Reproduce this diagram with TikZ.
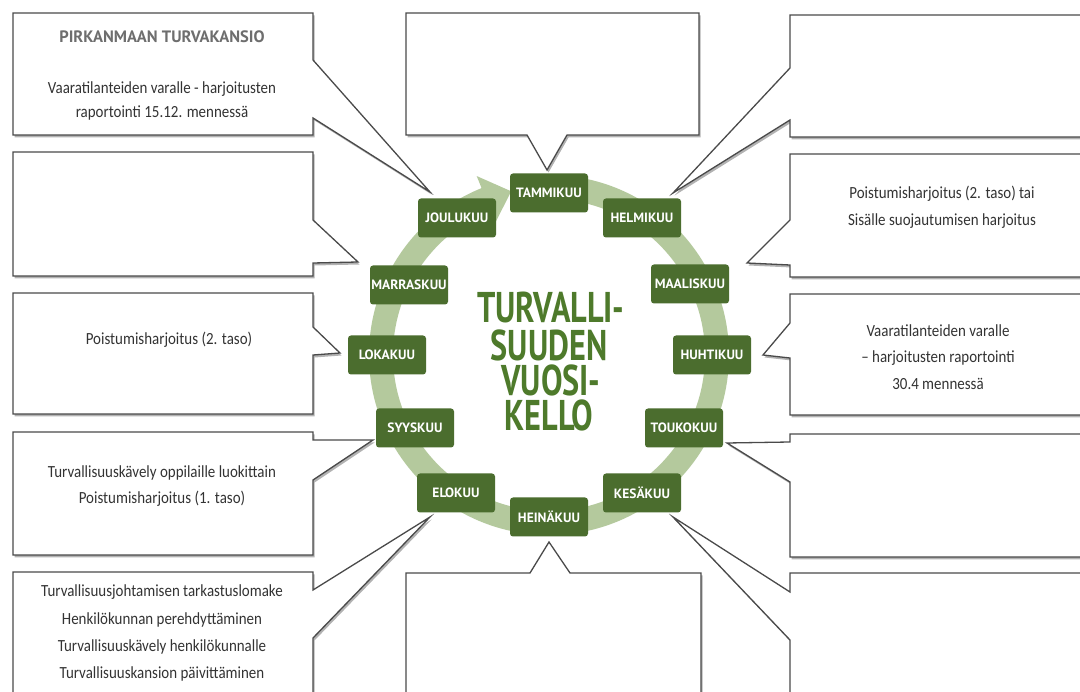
\documentclass[tikz,border=0pt]{standalone}
\usepackage{fontspec}
\setmainfont{Carlito}
\newfontfamily\bodyf{Carlito}[FakeStretch=0.88]
\newfontfamily\headf{PT Sans}
\newfontfamily\titlef{PT Sans}[FakeStretch=0.75]
\usetikzlibrary{calc,shadows}
\definecolor{boxline}{HTML}{4A4A4A}
\definecolor{monthgreen}{HTML}{4B6D2E}
\definecolor{ringgreen}{HTML}{B4C99D}
\definecolor{titlegreen}{HTML}{4E7A2B}
\definecolor{bodytext}{HTML}{333333}
\definecolor{headgray}{HTML}{6E6E6E}
\tikzset{
  calloutbox/.style={draw=boxline, line width=1.3pt, fill=white, line join=miter,
    drop shadow={shadow xshift=1.5pt, shadow yshift=-2.5pt, opacity=0.3, fill=black}},
  month/.style={fill=monthgreen, rounded corners=3pt, minimum width=78pt, minimum height=39pt,
    inner sep=0pt, text=white, font=\headf\bfseries\fontsize{13.5}{13.5}\selectfont},
  body/.style={text=bodytext, font=\bodyf\fontsize{17}{20}\selectfont, anchor=base, inner sep=0pt},
  head/.style={text=headgray, font=\headf\bfseries\fontsize{16.5}{18}\selectfont, anchor=base, inner sep=0pt},
  ring/.style={draw=ringgreen, line width=24pt},
  titletext/.style={text=titlegreen, font=\titlef\bfseries\fontsize{43}{43}\selectfont, anchor=base, inner sep=0pt},
}
\begin{document}
\begin{tikzpicture}[x=1pt,y=-1pt]
\useasboundingbox (0,0) rectangle (1080,692);
\clip (0,0) rectangle (1080,692);
\fill[white] (0,0) rectangle (1080,692);

% ring with arrow
\coordinate (c) at (549,355);
\draw[ring] ($(c)+(-88:168)$) arc[start angle=-88, end angle=249, radius=168];
\fill[ringgreen] ($(c)+(248:193)$) -- ($(c)+(257:168)$) -- ($(c)+(248:143)$) -- cycle;

% callout boxes, left column
\path[calloutbox] (13,13) -- (313,13) -- (313,60) -- (430,192) -- (313,118) -- (313,135) -- (13,135) -- cycle;
\path[calloutbox] (13,152) -- (313,152) -- (313,220) -- (358,262) -- (313,263) -- (313,276) -- (13,276) -- cycle;
\path[calloutbox] (13,293) -- (313,293) -- (313,327) -- (340,353) -- (313,355) -- (313,414) -- (13,414) -- cycle;
\path[calloutbox] (13,432) -- (313,432) -- (313,440) -- (373,440) -- (313,480) -- (313,555) -- (13,555) -- cycle;
\path[calloutbox] (13,572) -- (313,572) -- (313,590) -- (430,517) -- (313,638) -- (313,710) -- (13,710) -- cycle;
% centre column
\path[calloutbox] (406,13) -- (699,13) -- (699,135) -- (567,135) -- (547,170) -- (527,135) -- (406,135) -- cycle;
\path[calloutbox] (406,573) -- (530,573) -- (549,542) -- (570,573) -- (701,573) -- (701,710) -- (406,710) -- cycle;
% right column
\path[calloutbox] (790,15) -- (1095,15) -- (1095,137) -- (790,137) -- (790,120) -- (673,193) -- (790,68) -- cycle;
\path[calloutbox] (790,154) -- (1095,154) -- (1095,277) -- (790,277) -- (790,265) -- (747,263) -- (790,220) -- cycle;
\path[calloutbox] (790,294) -- (1095,294) -- (1095,415) -- (790,415) -- (790,358) -- (763,355) -- (790,323) -- cycle;
\path[calloutbox] (790,434) -- (1095,434) -- (1095,557) -- (790,557) -- (790,482) -- (727,443) -- (790,442) -- cycle;
\path[calloutbox] (790,573) -- (1095,573) -- (1095,710) -- (790,710) -- (790,640) -- (673,517) -- (790,592) -- cycle;

% texts
\node[head] (h1) at (162,43) {PIRKANMAAN TURVAKANSIO};
\node[body] (t1a) at (162,94) {Vaaratilanteiden varalle - harjoitusten};
\node[body] (t1b) at (162,118) {raportointi 15.12. mennessä};
\node[body] (t3) at (169,345) {Poistumisharjoitus (2. taso)};
\node[body] (t4a) at (162,478) {Turvallisuuskävely oppilaille luokittain};
\node[body] (t4b) at (162,504) {Poistumisharjoitus (1. taso)};
\node[body] (t5a) at (162,597) {Turvallisuusjohtamisen tarkastuslomake};
\node[body] (t5b) at (162,624) {Henkilökunnan perehdyttäminen};
\node[body] (t5c) at (162,651) {Turvallisuuskävely henkilökunnalle};
\node[body] (t5d) at (162,678) {Turvallisuuskansion päivittäminen};
\node[body] (r2a) at (942,199) {Poistumisharjoitus (2. taso) tai};
\node[body] (r2b) at (942,226) {Sisälle suojautumisen harjoitus};
\node[body] (r3a) at (938,337) {Vaaratilanteiden varalle};
\node[body] (r3b) at (938,363) {– harjoitusten raportointi};
\node[body] (r3c) at (938,390) {30.4 mennessä};

% months
\node[month] (tam) at (549,193) {TAMMIKUU};
\node[month] (hel) at (642,218) {HELMIKUU};
\node[month] (maa) at (690,284) {MAALISKUU};
\node[month] (huh) at (712,355) {HUHTIKUU};
\node[month] (tou) at (684,428) {TOUKOKUU};
\node[month] (kes) at (642,493) {KESÄKUU};
\node[month] (hei) at (549,517) {HEINÄKUU};
\node[month] (elo) at (456,493) {ELOKUU};
\node[month] (syy) at (415,428) {SYYSKUU};
\node[month] (lok) at (387,355) {LOKAKUU};
\node[month] (mar) at (409,285) {MARRASKUU};
\node[month] (jou) at (457,218) {JOULUKUU};

% title
\node[titletext] (ti1) at (551,323) {TURVALLI-};
\node[titletext] (ti2) at (549,361) {SUUDEN};
\node[titletext] (ti3) at (551,396) {VUOSI-};
\node[titletext] (ti4) at (549,431) {KELLO};
\end{tikzpicture}
\end{document}
